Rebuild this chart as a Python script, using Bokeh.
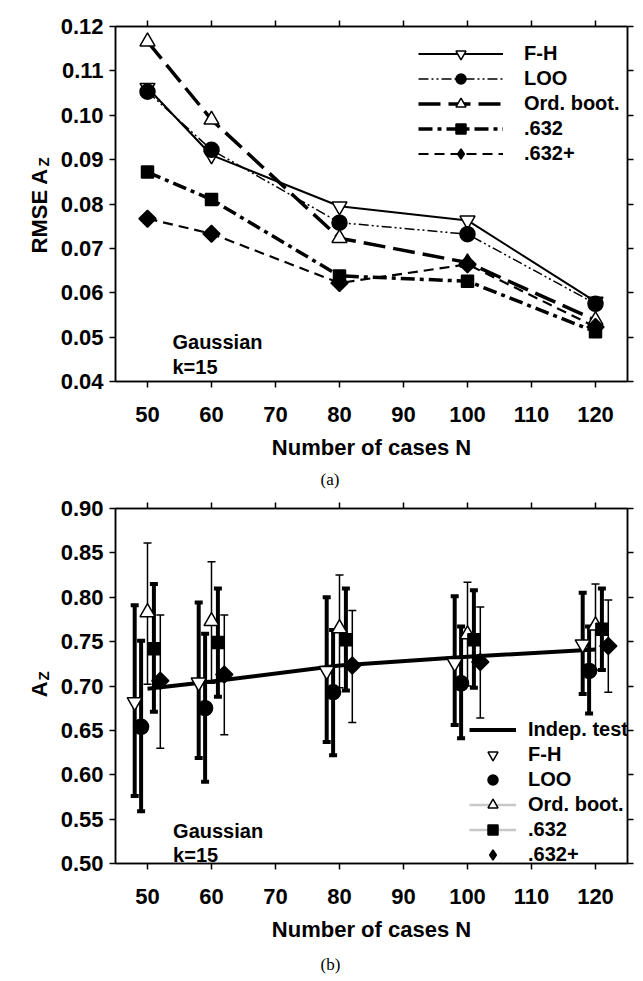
from bokeh.plotting import figure
from bokeh.models import (Range1d, FixedTicker, PrintfTickFormatter, LinearAxis, Whisker,
                          TeeHead, ColumnDataSource, Label, Legend, LegendItem, Title,
                          CustomJSTickFormatter)
from bokeh.core.properties import value
from bokeh.layouts import column, row
from bokeh.embed import file_html
from bokeh.resources import INLINE

# ---------------- data ----------------
N = [50, 60, 80, 100, 120]

# (a) RMSE of Az
rmse_fh = [0.1062, 0.0910, 0.0795, 0.0763, 0.0580]
rmse_loo = [0.1053, 0.0922, 0.0758, 0.0732, 0.0575]
rmse_ob = [0.1166, 0.0990, 0.0723, 0.0668, 0.0538]
rmse_632 = [0.0872, 0.0810, 0.0638, 0.0626, 0.0512]
rmse_632p = [0.0767, 0.0733, 0.0622, 0.0664, 0.0523]

# (b) mean Az with error bars
indep = [0.697, 0.705, 0.723, 0.733, 0.741]
fh_mean = [0.682, 0.704, 0.717, 0.726, 0.747]
fh_low = [0.576, 0.619, 0.637, 0.656, 0.691]
fh_high = [0.791, 0.794, 0.800, 0.801, 0.805]
loo_mean = [0.654, 0.675, 0.693, 0.703, 0.717]
loo_low = [0.559, 0.592, 0.622, 0.641, 0.669]
loo_high = [0.751, 0.759, 0.763, 0.767, 0.767]
ob_mean = [0.783, 0.773, 0.765, 0.758, 0.768]
ob_low = [0.702, 0.703, 0.698, 0.700, 0.718]
ob_high = [0.861, 0.840, 0.825, 0.817, 0.815]
p632_mean = [0.742, 0.749, 0.752, 0.752, 0.764]
p632_low = [0.671, 0.688, 0.695, 0.698, 0.718]
p632_high = [0.815, 0.810, 0.810, 0.808, 0.810]
p632p_mean = [0.706, 0.713, 0.723, 0.727, 0.745]
p632p_low = [0.630, 0.645, 0.659, 0.664, 0.693]
p632p_high = [0.780, 0.780, 0.785, 0.789, 0.797]
offsets = [-2, -1, 0, 1, 2]   # horizontal jitter of the five estimators in (b)

x_ticks = [50, 60, 70, 80, 90, 100, 110, 120]
ya_ticks = [0.04, 0.05, 0.06, 0.07, 0.08, 0.09, 0.10, 0.11, 0.12]
yb_ticks = [0.50, 0.55, 0.60, 0.65, 0.70, 0.75, 0.80, 0.85, 0.90]

FONT = "Liberation Sans"
TICK_PX = "22px"
TITLE_PX = "22px"
LEG_PX = "20px"

STRIP_W = 50
FRAME_H = 355
NAN = float("nan")


def style_axes(p, yticks, caption, cap_standoff):
    p.xaxis.ticker = FixedTicker(ticks=x_ticks)
    p.yaxis.ticker = FixedTicker(ticks=yticks)
    p.yaxis.formatter = PrintfTickFormatter(format="%.2f")
    for ax in p.axis:
        ax.axis_line_color = "black"
        ax.axis_line_width = 1.5
        ax.major_tick_line_color = "black"
        ax.major_tick_line_width = 1.5
        ax.major_tick_out = 6
        ax.major_tick_in = 0
        ax.minor_tick_line_color = None
        ax.major_label_text_font = FONT
        ax.major_label_text_font_style = "bold"
        ax.major_label_text_font_size = TICK_PX
        ax.major_label_text_color = "black"
        ax.axis_label_text_font = FONT
        ax.axis_label_text_font_style = "bold"
        ax.axis_label_text_font_size = TITLE_PX
        ax.axis_label_text_color = "black"
    p.xaxis.major_label_standoff = 19
    p.yaxis.major_label_standoff = 6
    p.xaxis.axis_label = "Number of cases N"
    p.xaxis.axis_label_standoff = 10
    blank = CustomJSTickFormatter(code="return ''")
    for ticks, side in ((x_ticks, "above"), (yticks, "right")):
        ax = LinearAxis(ticker=FixedTicker(ticks=ticks), formatter=blank,
                        major_label_text_font_size="0px", major_label_standoff=0,
                        axis_line_width=1.5, major_tick_line_width=1.5, major_tick_out=6,
                        major_tick_in=0, minor_tick_line_color=None)
        p.add_layout(ax, side)
    p.add_layout(Title(text=caption, align="left", offset=205, standoff=cap_standoff,
                       text_font="Liberation Serif", text_font_style="normal",
                       text_font_size="17px", text_color="black"), "below")
    p.xgrid.grid_line_color = None
    p.ygrid.grid_line_color = None
    p.outline_line_color = "black"
    p.outline_line_width = 1.5


def inner_label(p, x, y, txt):
    p.add_layout(Label(x=x, y=y, text=txt, text_align="left", text_baseline="alphabetic",
                       text_font=FONT, text_font_style="bold", text_font_size="20px",
                       text_color="black"))


def title_strip(height, main_y, sub_y, main_txt):
    """Narrow text-only figure carrying the rotated y-axis title with its subscript.
    Its frame is aligned with the neighbouring plot frame; y is in pixels above the frame bottom."""
    s = figure(width=STRIP_W, height=height, x_range=Range1d(0, STRIP_W),
               y_range=Range1d(0, FRAME_H), x_axis_type=None, y_axis_type=None,
               output_backend="svg", toolbar_location=None, min_border=0,
               outline_line_color=None, background_fill_color="white",
               border_fill_color="white")
    s.grid.grid_line_color = None
    s.text(x=[39], y=[main_y], text=[main_txt], angle=1.5708, text_align="left",
           text_baseline="alphabetic", text_font=value(FONT), text_font_style="bold",
           text_font_size="22px", text_color="black")
    s.text(x=[43], y=[sub_y], text=["Z"], angle=1.5708, text_align="left",
           text_baseline="alphabetic", text_font=value(FONT), text_font_style="bold",
           text_font_size="15px", text_color="black")
    return s


def diamond_marker(size):
    return dict(marker="square", angle=0.7854, size=size)


def make_legend(items, loc, glyph_w, standoff):
    return Legend(items=items, location=loc, orientation="vertical",
                  glyph_width=glyph_w, glyph_height=25, label_height=25, spacing=0,
                  padding=0, label_standoff=standoff, margin=0, background_fill_alpha=0,
                  border_line_color=None, label_text_font=FONT, label_text_font_style="bold",
                  label_text_font_size=LEG_PX, label_text_color="black")


def legend_proxy_diamond(p, ys, fill):
    # draws nothing in the plot (x is NaN); only supplies the diamond legend glyph
    src = ColumnDataSource(dict(x=[NAN] * len(ys), y=ys))
    return p.scatter("x", "y", source=src, marker="diamond", fill_color=fill,
                     line_color="black", line_width=1.5)


def legend_proxy_gray_line(p, ys):
    src = ColumnDataSource(dict(x=[NAN] * len(ys), y=ys))
    return p.line("x", "y", source=src, line_color="#c8c8c8", line_width=2.5)


# ---------------- (a) ----------------
pa = figure(x_range=Range1d(45, 125), y_range=Range1d(0.04, 0.12),
            frame_width=512, frame_height=FRAME_H, output_backend="svg", toolbar_location=None,
            min_border_left=65, min_border_right=10, min_border_top=26, min_border_bottom=117,
            background_fill_color="white", border_fill_color="white")
style_axes(pa, ya_ticks, "(a)", 10)

series_a = [
    ("F-H", rmse_fh, "solid", 2.0, dict(marker="inverted_triangle", size=15), "white"),
    ("LOO", rmse_loo, "10 3 2 3 2 3", 1.5, dict(marker="circle", size=15), "black"),
    ("Ord. boot.", rmse_ob, "22 8", 3.5, dict(marker="triangle", size=15), "white"),
    (".632", rmse_632, "14 5 4 5", 3.5, dict(marker="square", size=12), "black"),
    (".632+", rmse_632p, "10 6", 2.2, diamond_marker(12), "black"),
]
items_a = []
for name, ys, dash, lw, mk, fill in series_a:
    src = ColumnDataSource(dict(x=N, y=ys))
    ln = pa.line("x", "y", source=src, line_color="black", line_width=lw, line_dash=dash)
    sc = pa.scatter("x", "y", source=src, fill_color=fill, line_color="black",
                    line_width=1.5, **mk)
    rends = [ln, sc]
    if "angle" in mk:
        rends = [ln, legend_proxy_diamond(pa, ys, fill)]
    items_a.append(LegendItem(label=name, renderers=rends))

pa.add_layout(make_legend(items_a, (303, 215), 85, 21))

inner_label(pa, 53.9, 0.0490, "Gaussian")
inner_label(pa, 53.9, 0.0433, "k=15")

# ---------------- (b) ----------------
pb = figure(x_range=Range1d(45, 125), y_range=Range1d(0.5, 0.9),
            frame_width=512, frame_height=FRAME_H, output_backend="svg", toolbar_location=None,
            min_border_left=65, min_border_right=10, min_border_top=10, min_border_bottom=112,
            background_fill_color="white", border_fill_color="white")
style_axes(pb, yb_ticks, "(b)", 16)

ind_src = ColumnDataSource(dict(x=N, y=indep))
ind_line = pb.line("x", "y", source=ind_src, line_color="black", line_width=4)

series_b = [
    ("F-H", fh_mean, fh_low, fh_high, 4.0, dict(marker="inverted_triangle", size=15), "white"),
    ("LOO", loo_mean, loo_low, loo_high, 4.0, dict(marker="circle", size=15), "black"),
    ("Ord. boot.", ob_mean, ob_low, ob_high, 1.5, dict(marker="triangle", size=15), "white"),
    (".632", p632_mean, p632_low, p632_high, 4.0, dict(marker="square", size=12), "black"),
    (".632+", p632p_mean, p632p_low, p632p_high, 1.5, diamond_marker(12), "black"),
]
items_b = [LegendItem(label="Indep. test", renderers=[ind_line])]
for (name, m, lo, hi, lw, mk, fill), off in zip(series_b, offsets):
    xs = [n + off for n in N]
    src = ColumnDataSource(dict(x=xs, y=m, lo=lo, hi=hi))
    wk = Whisker(base="x", upper="hi", lower="lo", source=src, dimension="height",
                 line_color="black", line_width=lw,
                 upper_head=TeeHead(size=8, line_width=lw, line_color="black"),
                 lower_head=TeeHead(size=8, line_width=lw, line_color="black"))
    pb.add_layout(wk)
    sc = pb.scatter("x", "y", source=src, fill_color=fill, line_color="black",
                    line_width=1.5, **mk)
    rends = [sc]
    if "angle" in mk:
        rends = [legend_proxy_diamond(pb, m, fill)]
    if name in ("Ord. boot.", ".632"):
        rends = [legend_proxy_gray_line(pb, m)] + rends
    items_b.append(LegendItem(label=name, renderers=rends))

pb.add_layout(make_legend(items_b, (354, -4), 47, 12))

inner_label(pb, 54.0, 0.5363, "Gaussian")
inner_label(pb, 54.0, 0.5092, "k=15")

sa = title_strip(498, 128, 215, "RMSE A")
sb = title_strip(477, 163, 180, "A")

layout = column(row(sa, pa, spacing=0), row(sb, pb, spacing=0), spacing=0)
open("out.html", "w").write(file_html(layout, INLINE))
